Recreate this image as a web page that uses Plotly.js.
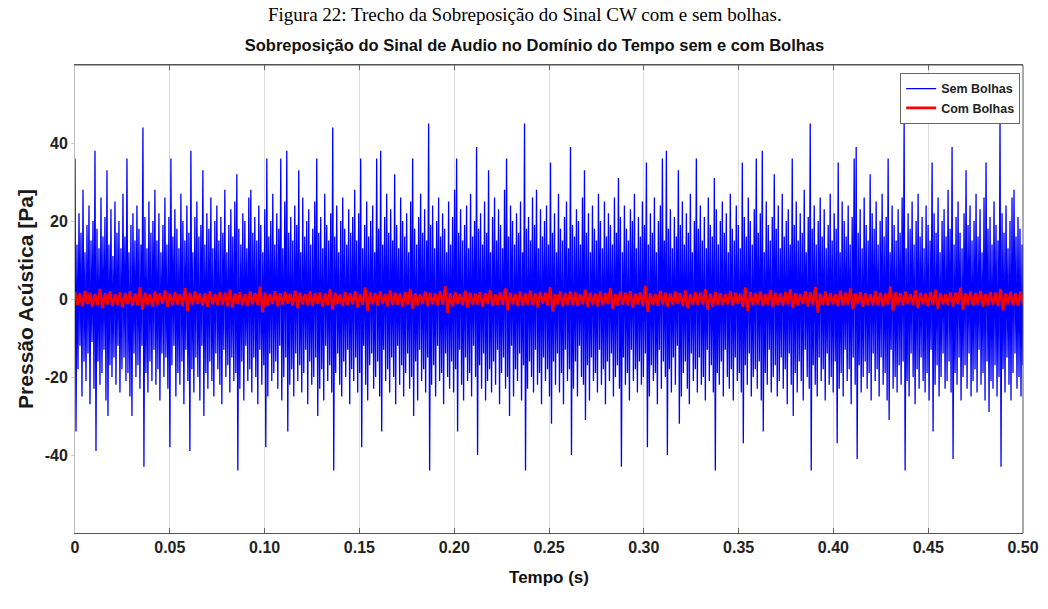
<!DOCTYPE html>
<html>
<head>
<meta charset="utf-8">
<script src="https://cdn.plot.ly/plotly-3.0.1.min.js"></script>
<style>
  html, body { margin: 0; padding: 0; background: #ffffff; }
  #chart { width: 1048px; height: 609px; }
</style>
</head>
<body>
<div id="chart"></div>
<script>
// ---- Data ----
const duracao = 0.5; // s, length of the excerpt

// Pressão acústica [Pa], sinal sem bolhas (amostras)
const semBolhas = [
36,-34,14,-18,22,-12,17,-25,28,-16,12,-21,19,-14,24,-27,15,-11,20,-23,38,-39,18,-16,13,-22,26,-19,16,-13,21,-26,33,-30,14,-17,23,-20,11,-15,
25,-22,17,-12,20,-24,13,-18,27,-15,16,-21,36,-19,12,-25,19,-30,22,-14,15,-20,24,-17,18,-23,14,-12,44,-43,21,-19,13,-24,25,-16,17,-21,20,-13,
28,-22,15,-18,22,-26,12,-14,19,-20,26,-15,14,-23,21,-38,36,-17,16,-12,23,-25,18,-19,13,-22,27,-16,20,-27,15,-13,24,-21,17,-39,38,-18,12,-24,
21,-15,25,-20,16,-26,19,-12,33,-30,14,-19,22,-23,18,-16,26,-21,13,-25,20,-14,24,-18,15,-22,21,-27,17,-13,28,-20,12,-17,19,-24,23,-15,16,-21,
25,-19,32,-44,18,-23,14,-16,22,-26,20,-12,13,-21,26,-18,28,-24,17,-15,21,-20,15,-27,24,-13,19,-22,12,-17,23,-38,36,-25,16,-14,20,-21,27,-19,
14,-16,22,-23,18,-12,36,-26,13,-20,25,-15,38,-34,17,-22,21,-18,15,-25,24,-14,19,-21,33,-17,12,-24,26,-19,16,-13,20,-27,23,-16,14,-22,18,-20,
25,-15,36,-30,17,-23,21,-18,13,-26,27,-12,19,-21,15,-17,22,-24,44,-44,16,-19,24,-14,12,-22,20,-25,26,-16,18,-20,14,-13,23,-27,17,-18,21,-21,
28,-15,15,-24,22,-19,36,-38,13,-12,19,-22,25,-26,16,-17,20,-14,24,-23,12,-20,36,-16,18,-25,38,-34,14,-13,21,-21,27,-18,17,-24,23,-15,15,-20,
32,-27,19,-12,13,-22,26,-17,20,-25,16,-19,22,-14,12,-23,25,-20,36,-30,18,-16,14,-26,21,-13,27,-21,17,-18,23,-24,15,-15,45,-44,19,-22,24,-17,
13,-25,20,-12,26,-21,16,-19,22,-27,18,-14,12,-20,25,-23,14,-16,21,-24,28,-18,36,-34,17,-13,23,-22,15,-26,19,-15,24,-21,13,-19,27,-25,16,-12,
20,-20,39,-40,18,-17,22,-23,14,-14,25,-26,17,-21,33,-18,12,-24,21,-16,26,-22,15,-13,23,-27,19,-19,13,-15,28,-23,36,-20,16,-30,24,-12,20,-25,
14,-18,22,-21,17,-14,25,-26,12,-17,45,-44,18,-23,21,-16,15,-20,26,-24,19,-13,28,-22,13,-19,23,-27,16,-15,20,-21,24,-18,14,-25,35,-32,17,-16,
22,-22,12,-14,27,-24,18,-19,15,-27,21,-13,25,-21,13,-18,39,-40,19,-23,16,-16,23,-25,20,-12,14,-20,26,-22,33,-31,17,-17,22,-26,12,-15,24,-21,
18,-19,15,-24,27,-13,20,-22,13,-18,25,-27,16,-16,22,-21,19,-14,14,-25,26,-20,17,-17,31,-23,21,-43,12,-15,24,-22,18,-19,15,-26,23,-13,20,-21,
27,-18,13,-24,21,-16,16,-22,25,-20,19,-14,35,-38,14,-25,22,-17,17,-21,26,-19,12,-27,20,-13,24,-23,36,-16,15,-20,38,-40,18,-18,23,-24,13,-15,
21,-22,16,-12,33,-32,19,-25,25,-19,14,-16,22,-23,17,-27,27,-14,12,-21,20,-18,36,-24,18,-15,24,-22,15,-20,21,-26,13,-13,26,-21,19,-17,16,-24,
31,-44,23,-19,14,-22,20,-16,25,-25,17,-13,22,-20,12,-23,27,-18,18,-26,15,-15,24,-21,19,-19,13,-24,35,-37,21,-17,16,-22,26,-14,20,-25,14,-20,
23,-18,36,-23,17,-16,22,-26,38,-34,12,-19,25,-22,19,-13,15,-24,21,-20,32,-17,18,-25,24,-21,13,-15,27,-23,16,-18,20,-27,23,-14,14,-22,36,-30,
19,-19,25,-24,15,-16,22,-21,17,-26,28,-13,12,-20,21,-23,45,-44,18,-17,24,-22,14,-25,20,-15,26,-21,16,-18,23,-26,13,-14,19,-22,27,-20,15,-24,
22,-16,18,-37,35,-23,12,-19,25,-25,20,-13,16,-21,24,-18,14,-27,21,-15,36,-22,39,-41,17,-17,23,-24,13,-20,26,-16,19,-23,15,-19,32,-26,22,-14,
18,-21,25,-18,14,-25,20,-15,27,-22,16,-19,21,-26,36,-31,12,-13,24,-23,19,-20,15,-24,23,-17,17,-22,26,-16,46,-44,13,-21,22,-25,18,-14,25,-20,
14,-27,20,-18,27,-23,16,-15,21,-21,13,-24,24,-19,19,-26,15,-13,35,-34,22,-22,17,-17,26,-25,12,-20,20,-14,23,-23,16,-21,28,-16,18,-24,39,-41,
14,-19,21,-22,25,-15,17,-26,13,-20,22,-17,33,-23,19,-14,24,-25,15,-21,20,-18,27,-24,16,-13,23,-22,12,-19,26,-26,35,-16,18,-29,21,-21,14,-23,
25,-17,19,-25,15,-20,46,-43,22,-18,17,-24,24,-15,13,-22,20,-26,26,-19,28,-14,16,-23,21,-20,18,-25,14,-17
];

// Pressão acústica [Pa], sinal com bolhas (amostras)
const comBolhas = [
1.8,-1.5,1.4,-1.9,2.1,-1.3,1.6,-2.0,1.3,-1.6,2.6,-2.4,1.5,-1.4,1.9,-1.8,1.2,-1.5,1.7,-2.1,
1.5,-1.3,2.0,-1.7,1.4,-1.6,3.0,-2.8,1.6,-1.4,1.3,-1.9,1.9,-1.5,1.5,-1.2,2.2,-2.0,1.4,-1.6,
1.7,-1.4,1.3,-1.8,2.8,-3.1,1.6,-1.5,1.9,-1.3,1.4,-1.7,1.5,-2.0,2.0,-1.4,1.3,-1.6,1.8,-1.5,
1.6,-1.9,2.4,-2.2,1.4,-1.3,1.7,-1.6,1.2,-1.8,1.9,-1.4,1.5,-1.5,3.2,-3.4,1.6,-1.7,1.3,-1.3,
2.0,-1.9,1.5,-1.5,1.8,-1.2,1.4,-1.7,2.1,-2.3,1.6,-1.4,1.3,-1.6,1.9,-1.8,1.5,-1.3,1.7,-2.0,
1.4,-1.5,2.5,-2.7,1.6,-1.3,1.2,-1.8,1.8,-1.6,1.5,-1.4,2.0,-2.1,1.3,-1.5,2.9,-3.0,1.7,-1.4,
1.5,-1.7,1.9,-1.3,1.3,-1.9,2.2,-1.6,1.6,-1.5,1.4,-2.0,1.8,-1.4,2.6,-2.5,1.5,-1.6,1.2,-1.3,
1.9,-1.8,1.6,-1.4,1.4,-1.7,2.0,-1.5,3.3,-3.6,1.5,-1.9,1.7,-1.3,1.3,-1.6,2.1,-2.2,1.6,-1.5,
1.4,-1.4,1.8,-2.0,1.5,-1.3,2.3,-1.8,1.2,-1.6,1.7,-1.5,2.7,-2.9,1.6,-1.4,1.3,-1.8,1.9,-1.7,
1.5,-1.5,2.1,-1.6,1.4,-2.1,1.8,-1.3,1.6,-1.7,3.0,-3.2,1.3,-1.4,1.9,-1.9,1.5,-1.5,2.0,-1.6,
1.7,-1.8,1.3,-1.4,2.4,-2.0,1.6,-1.5,1.4,-1.9,1.9,-1.6,1.5,-1.3,2.8,-2.6,1.2,-1.7,1.8,-1.4,
1.6,-1.6,2.0,-2.2,1.4,-1.4,1.7,-1.8,3.4,-3.3,1.5,-1.5,1.3,-1.7,2.1,-1.4,1.6,-2.0,1.4,-1.5,
1.9,-1.3,1.5,-1.8,2.2,-2.4,1.3,-1.5,1.7,-1.6,1.6,-1.4,2.6,-2.8,1.4,-1.9,1.8,-1.5,1.5,-1.6,
1.3,-1.4,2.0,-1.7,1.6,-1.3,1.4,-2.0,2.9,-3.1,1.8,-1.6,1.5,-1.4,1.9,-1.8,1.2,-1.5,2.3,-2.1,
1.6,-1.5,1.4,-1.7,1.8,-1.4,2.5,-2.3,1.5,-1.6,1.3,-1.3,2.0,-1.9,1.7,-1.5,3.1,-3.5,1.4,-1.6,
1.9,-1.7,1.5,-1.4,1.3,-1.8,2.1,-1.6,1.6,-1.5,2.7,-2.6,1.4,-1.3,1.8,-2.0,1.5,-1.5,1.2,-1.7,
2.0,-1.6,1.6,-1.9,1.4,-1.4,3.2,-3.0,1.7,-1.5,1.5,-1.7,1.9,-1.3,1.3,-1.6,2.2,-2.3,1.6,-1.4,
1.4,-1.8,1.8,-1.5,2.4,-2.5,1.5,-1.4,1.3,-1.6,1.7,-1.9,1.6,-1.3,2.9,-2.7,1.4,-1.5,1.9,-1.7,
1.5,-1.4,2.1,-2.0,1.3,-1.6,1.7,-1.5,1.6,-1.8,2.6,-2.9,1.4,-1.4,1.8,-1.6,1.5,-1.7,1.9,-1.5
];

const seriesNames = ['Sem Bolhas', 'Com Bolhas'];
const xTickVals = [0, 0.05, 0.10, 0.15, 0.20, 0.25, 0.30, 0.35, 0.40, 0.45, 0.50];
const xTickText = ['0', '0.05', '0.10', '0.15', '0.20', '0.25', '0.30', '0.35', '0.40', '0.45', '0.50'];
const yTickVals = [-40, -20, 0, 20, 40];
const yTickText = ['-40', '-20', '0', '20', '40'];

// sample times (uniform sampling over the excerpt)
const tSem = semBolhas.map((_, i) => i * duracao / (semBolhas.length - 1));
const tCom = comBolhas.map((_, i) => i * duracao / (comBolhas.length - 1));

const FONT = 'Liberation Sans, Arial, sans-serif';

const traces = [
  {
    x: tSem, y: semBolhas, type: 'scatter', mode: 'lines',
    name: seriesNames[0],
    line: { color: '#0000ff', width: 1.3 }
  },
  {
    x: tCom, y: comBolhas, type: 'scatter', mode: 'lines',
    name: seriesNames[1],
    line: { color: '#ff0000', width: 2.6 }
  }
];

const layout = {
  width: 1048, height: 609,
  margin: { l: 75, r: 25, t: 65, b: 76 },
  paper_bgcolor: '#ffffff', plot_bgcolor: '#ffffff',
  font: { family: FONT, color: '#1a1a1a' },
  title: {
    text: '<b>Sobreposição do Sinal de Audio no Domínio do Tempo sem e com Bolhas</b>',
    font: { family: FONT, size: 16.5, color: '#111111' },
    x: 0.51, xanchor: 'center', y: 1 - 45 / 609, yanchor: 'middle'
  },
  annotations: [{
    text: 'Figura 22: Trecho da Sobreposição do Sinal CW com e sem bolhas.',
    xref: 'paper', yref: 'paper', x: 0.475, y: 1 + (65 - 15) / 468,
    xanchor: 'center', yanchor: 'middle', showarrow: false,
    font: { family: 'Liberation Serif, Times New Roman, serif', size: 19, color: '#000000' }
  }],
  showlegend: true,
  legend: {
    x: 0.997, xanchor: 'right', y: 0.983, yanchor: 'top',
    bgcolor: '#ffffff', bordercolor: '#666666', borderwidth: 1,
    font: { family: FONT, size: 12.5, color: '#222222', weight: 'bold' },
    tracegroupgap: 0, itemwidth: 30
  },
  xaxis: {
    range: [0, 0.5],
    tickvals: xTickVals, ticktext: xTickText,
    tickfont: { family: FONT, size: 16, color: '#222222', weight: 'bold' },
    showgrid: true, gridcolor: '#dedede', gridwidth: 1,
    zeroline: false,
    showline: true, linecolor: '#555555', linewidth: 1, mirror: 'allticks',
    ticks: 'inside', ticklen: 5, tickcolor: '#666666',
    title: { text: '<b>Tempo (s)</b>', font: { family: FONT, size: 17, color: '#111111' }, standoff: 15 }
  },
  yaxis: {
    range: [-60, 60],
    tickvals: yTickVals, ticktext: yTickText,
    tickfont: { family: FONT, size: 16, color: '#222222', weight: 'bold' },
    showgrid: false, zeroline: false,
    showline: true, linecolor: '#bdbdbd', linewidth: 1, mirror: false,
    ticks: 'outside', ticklen: 3, tickcolor: '#cccccc',
    title: { text: 'Pressão Acústica [Pa]', font: { family: FONT, size: 21, color: '#1a1a1a', weight: 'bold' }, standoff: 5 }
  },
  shapes: [
    { type: 'line', xref: 'paper', yref: 'paper', x0: 0, x1: 1, y0: 1, y1: 1, line: { color: '#555555', width: 1 } },
    { type: 'line', xref: 'paper', yref: 'paper', x0: 1, x1: 1, y0: 0, y1: 1, line: { color: '#555555', width: 1 } }
  ]
};

Plotly.newPlot('chart', traces, layout, { displayModeBar: false, staticPlot: true });
</script>
</body>
</html>
